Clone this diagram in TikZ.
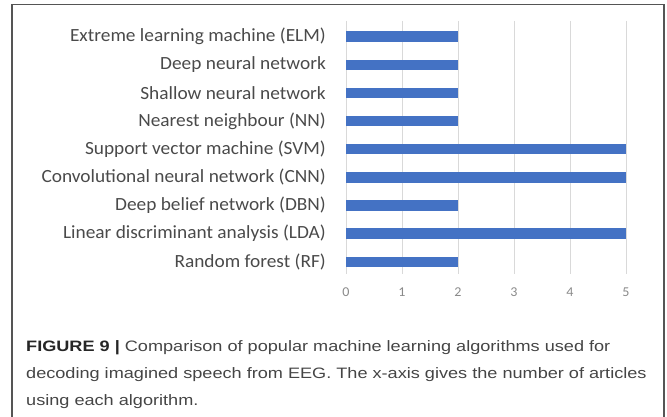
\documentclass[tikz,border=0pt]{standalone}
\usepackage{fontspec}
\setmainfont{Liberation Sans}
\newfontfamily\calib[FakeStretch=1.04]{Carlito}
\newfontfamily\capfont[FakeStretch=1.2]{Liberation Sans}
\definecolor{barblue}{HTML}{4472C4}
\definecolor{gridgray}{HTML}{D9D9D9}
\definecolor{labgray}{HTML}{4A4A4A}
\definecolor{tickgray}{HTML}{8A8A8A}
\definecolor{capgray}{HTML}{454545}
\definecolor{framegray}{HTML}{555555}
\begin{document}
\begin{tikzpicture}[x=1pt,y=-1pt,
  catlabel/.style={anchor=east,inner sep=0pt,font=\calib\fontsize{18.6}{20}\selectfont,text=labgray},
  ticklabel/.style={anchor=center,inner sep=0pt,font=\calib\fontsize{13.5}{15}\selectfont,text=tickgray},
  bar/.style={fill=barblue,draw=none},
  gridline/.style={draw=gridgray,line width=0.9pt},
  captext/.style={anchor=base west,inner sep=0pt,font=\capfont\fontsize{15.1}{18}\selectfont,text=capgray}]
\useasboundingbox (0,0) rectangle (667,417);
% frame (open at the bottom)
\draw[framegray,line width=1.4pt] (12,420) -- (12,4.5) -- (664,4.5) -- (664,420);
% grid
\foreach \v in {0,...,5}{
  \draw[gridline] (346+56*\v,21) -- (346+56*\v,274);
  \node[ticklabel] (t\v) at (346+56*\v,292) {\v};
}
% bars
\foreach \i/\val/\lab in {0/2/Extreme learning machine (ELM),1/2/Deep neural network,2/2/Shallow neural network,3/2/Nearest neighbour (NN),4/5/Support vector machine (SVM),5/5/Convolutional neural network (CNN),6/2/Deep belief network (DBN),7/5/Linear discriminant analysis (LDA),8/2/Random forest (RF)}{
  \fill[bar] (346,36.7+28.125*\i-5.2) rectangle (346+56*\val,36.7+28.125*\i+5.2);
  \node[catlabel] (c\i) at (326,36.7+28.125*\i) {\lab};
}
% caption
\node[captext] (cap1) at (26,351) {\textbf{\color{black!85}FIGURE 9 |} Comparison of popular machine learning algorithms used for};
\node[captext] (cap2) at (26,378) {decoding imagined speech from EEG. The x-axis gives the number of articles};
\node[captext] (cap3) at (26,405) {using each algorithm.};
\end{tikzpicture}
\end{document}
